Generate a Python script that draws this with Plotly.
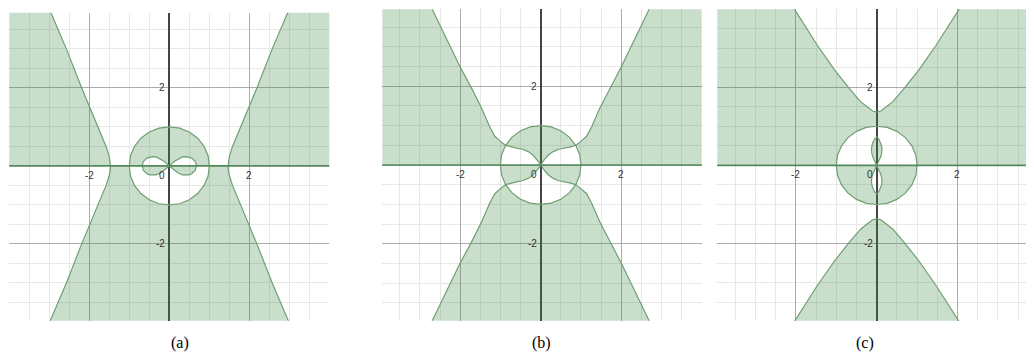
import plotly.graph_objects as go

# values (data units)
tick_vals = [-2, 2]
tick_text = ["-2", "2"]
captions = ["(a)", "(b)", "(c)"]

# unit circle, upper half, 0 to 180 degrees
circ_x = [1.00, 0.97, 0.87, 0.71, 0.50, 0.26, 0.00, -0.26, -0.50, -0.71, -0.87, -0.97, -1.00]
circ_y = [0.00, 0.26, 0.50, 0.71, 0.87, 0.97, 1.00, 0.97, 0.87, 0.71, 0.50, 0.26, 0.00]

# (a) right side curve, from the x axis upward
a_side_x = [1.47, 1.475, 1.50, 1.58, 1.79, 2.00, 2.19, 2.56, 2.96, 3.03]
a_side_y = [0.00, 0.10, 0.24, 0.50, 1.01, 1.52, 2.00, 2.97, 3.93, 4.10]
# (a) right lobe, upper half, from (0.68, 0) to the origin
a_lob_x = [0.68, 0.65, 0.56, 0.49, 0.42, 0.33, 0.22, 0.13, 0.00]
a_lob_y = [0.00, 0.11, 0.20, 0.23, 0.24, 0.23, 0.18, 0.12, 0.00]

# (b) curve inside the circle, origin to the circle
b_in_x = [0.00, 0.05, 0.10, 0.20, 0.31, 0.45, 0.60, 0.75, 0.87]
b_in_y = [0.00, 0.08, 0.15, 0.26, 0.34, 0.40, 0.43, 0.46, 0.50]
# (b) curve outside the circle
b_out_x = [0.87, 1.00, 1.14, 1.27, 1.47, 1.72, 2.01, 2.70, 2.78]
b_out_y = [0.50, 0.60, 0.73, 0.98, 1.45, 1.96, 2.51, 3.97, 4.12]

# (c) upper branch, right half, from the vertex
c_hyp_x = [0.00, 0.10, 0.19, 0.40, 0.68, 1.05, 1.47, 2.03, 2.12]
c_hyp_y = [1.36, 1.39, 1.46, 1.63, 1.97, 2.45, 3.07, 3.98, 4.12]
# (c) upper lobe, right half, from the origin up
c_lob_x = [0.00, 0.05, 0.09, 0.12, 0.13, 0.12, 0.09, 0.05, 0.00]
c_lob_y = [0.00, 0.10, 0.20, 0.30, 0.40, 0.50, 0.60, 0.68, 0.73]

FILL = "rgba(60,135,70,0.28)"
EDGE = "#6f9f73"
AXIS_GREEN = "#55885a"
E = 4.4  # beyond the visible range


def neg(v):
    return [-t for t in v]


def rev(v):
    return list(reversed(v))


fig = go.Figure()


def add_fill(xs, ys, ax):
    fig.add_trace(go.Scatter(x=xs, y=ys, xaxis="x" + ax, yaxis="y" + ax, mode="lines",
                             fill="toself", fillcolor=FILL, line={"width": 0},
                             hoverinfo="skip", showlegend=False))


def add_line(xs, ys, ax, color=EDGE, width=1.2):
    fig.add_trace(go.Scatter(x=xs, y=ys, xaxis="x" + ax, yaxis="y" + ax, mode="lines",
                             line={"color": color, "width": width},
                             hoverinfo="skip", showlegend=False))


circ_low_x = circ_x
circ_low_y = neg(circ_y)

# ---- panel (a)
ax = ""
add_fill([-E, -E] + neg(rev(a_side_x)), [0, E] + rev(a_side_y), ax)
add_fill([E, E] + rev(a_side_x), [0, E] + rev(a_side_y), ax)
add_fill(neg(a_side_x) + rev(a_side_x) + circ_low_x,
         neg(a_side_y) + neg(rev(a_side_y)) + circ_low_y, ax)
add_fill(circ_x + neg(a_lob_x) + rev(a_lob_x), circ_y + a_lob_y + rev(a_lob_y), ax)
add_fill(neg(a_lob_x), neg(a_lob_y), ax)
add_fill(a_lob_x, neg(a_lob_y), ax)
add_line(circ_x + rev(circ_low_x), circ_y + rev(circ_low_y), ax)
for sx in (1, -1):
    add_line([sx * v for v in rev(a_side_x) + a_side_x], rev(a_side_y) + neg(a_side_y), ax)
    add_line([sx * v for v in a_lob_x + rev(a_lob_x)], a_lob_y + neg(rev(a_lob_y)), ax)
add_line([-E, E], [0, 0], ax, AXIS_GREEN, 1.6)

# ---- panel (b)
ax = "2"
add_fill([-E, -E] + neg(rev(b_out_x)) + neg(rev(circ_x[:3])), [0, E] + rev(b_out_y) + rev(circ_y[:3]), ax)
add_fill([E, E] + rev(b_out_x) + rev(circ_x[:3]), [0, E] + rev(b_out_y) + rev(circ_y[:3]), ax)
add_fill(neg(rev(b_in_x)) + b_in_x + circ_x[2:11], rev(b_in_y) + b_in_y + circ_y[2:11], ax)
add_fill(neg(circ_x[:3]) + neg(rev(b_in_x)) + b_in_x + rev(circ_x[:3]),
         neg(circ_y[:3]) + neg(rev(b_in_y)) + neg(b_in_y) + neg(rev(circ_y[:3])), ax)
add_fill(neg(rev(b_out_x)) + rev(circ_x[2:11]) + b_out_x,
         neg(rev(b_out_y)) + neg(rev(circ_y[2:11])) + neg(b_out_y), ax)
add_line(circ_x + rev(circ_low_x), circ_y + rev(circ_low_y), ax)
for sy in (1, -1):
    curve_x = rev(b_out_x) + rev(b_in_x) + neg(b_in_x) + neg(b_out_x)
    curve_y = rev(b_out_y) + rev(b_in_y) + b_in_y + b_out_y
    add_line(curve_x, [sy * v for v in curve_y], ax)
add_line([-E, E], [0, 0], ax, AXIS_GREEN, 1.6)

# ---- panel (c)
ax = "3"
add_fill([-E, -E] + neg(rev(c_hyp_x)) + c_hyp_x[1:] + [E, E] + circ_x,
         [0, E] + rev(c_hyp_y) + c_hyp_y[1:] + [E, 0] + circ_y, ax)
add_fill(c_lob_x + neg(rev(c_lob_x)), c_lob_y + rev(c_lob_y), ax)
add_fill([1] + c_lob_x + neg(rev(c_lob_x)) + rev(circ_x),
         [0] + neg(c_lob_y) + neg(rev(c_lob_y)) + neg(rev(circ_y)), ax)
add_fill(neg(rev(c_hyp_x)) + c_hyp_x[1:], neg(rev(c_hyp_y)) + neg(c_hyp_y[1:]), ax)
add_line(circ_x + rev(circ_low_x), circ_y + rev(circ_low_y), ax)
for sy in (1, -1):
    add_line(neg(rev(c_hyp_x)) + c_hyp_x[1:], [sy * v for v in rev(c_hyp_y) + c_hyp_y[1:]], ax)
    add_line(c_lob_x + neg(rev(c_lob_x)), [sy * v for v in c_lob_y + rev(c_lob_y)], ax)
add_line([-E, E], [0, 0], ax, AXIS_GREEN, 1.6)

# panel placement: pixels measured on the reference; the page body adds an 8 px margin
OFF = 8
W, H = 1034 - OFF, 360 - 2 * OFF
panels = [
    {"px": (9.3, 329.3), "py": (12.7, 320.7), "xr": [-4.0, 4.0], "yr": [-3.97, 3.93], "cx": 169},
    {"px": (382.3, 701.7), "py": (9.3, 320.7), "xr": [-3.935, 4.0], "yr": [-3.957, 3.957], "cx": 541},
    {"px": (717.3, 1034), "py": (9.3, 320.7), "xr": [-3.946, 3.894], "yr": [-3.97, 3.99], "cx": 876},
]

layout = {}
annotations = []
label_font = {"family": "Liberation Sans, Arial", "size": 10, "color": "#333333"}
for i, p in enumerate(panels):
    sfx = "" if i == 0 else str(i + 1)
    common = {"dtick": 2, "tick0": 0, "showgrid": True, "gridcolor": "#ababab", "gridwidth": 1,
              "minor": {"dtick": 0.5, "tick0": 0, "showgrid": True, "gridcolor": "#e7e7e7", "gridwidth": 1},
              "showticklabels": False, "ticks": "", "showline": False, "fixedrange": True}
    x0, x1 = (p["px"][0] - OFF) / W, min((p["px"][1] - OFF) / W, 1.0)
    y0, y1 = 1 - (p["py"][1] - OFF) / H, 1 - (p["py"][0] - OFF) / H
    layout["xaxis" + sfx] = dict(common, domain=[x0, x1], range=p["xr"],
                                 anchor="y" + sfx, zeroline=True, zerolinecolor="#444444",
                                 zerolinewidth=1.5)
    layout["yaxis" + sfx] = dict(common, domain=[y0, y1], range=p["yr"],
                                 anchor="x" + sfx, zeroline=False)
    xref, yref = "x" + sfx, "y" + sfx
    for v, t in zip(tick_vals, tick_text):
        annotations.append({"x": v, "y": 0, "xref": xref, "yref": yref, "text": t, "showarrow": False,
                            "yanchor": "top", "yshift": -2, "font": label_font})
        annotations.append({"x": 0, "y": v, "xref": xref, "yref": yref, "text": t, "showarrow": False,
                            "xanchor": "right", "xshift": -2, "font": label_font})
    annotations.append({"x": 0, "y": 0, "xref": xref, "yref": yref, "text": "0", "showarrow": False,
                        "xanchor": "right", "yanchor": "top", "xshift": -2, "yshift": -2,
                        "font": label_font})
    annotations.append({"x": (p["cx"] - OFF) / W, "y": (H - (343 - OFF)) / H, "xref": "paper",
                        "yref": "paper", "yanchor": "middle", "text": captions[i], "showarrow": False,
                        "font": {"family": "Liberation Serif, serif", "size": 16, "color": "#000000"}})

fig.update_layout(
    width=W,
    height=H,
    margin={"l": 0, "r": 0, "t": 0, "b": 0},
    paper_bgcolor="white",
    plot_bgcolor="white",
    annotations=annotations,
    **layout
)

fig.write_html("out.html")
